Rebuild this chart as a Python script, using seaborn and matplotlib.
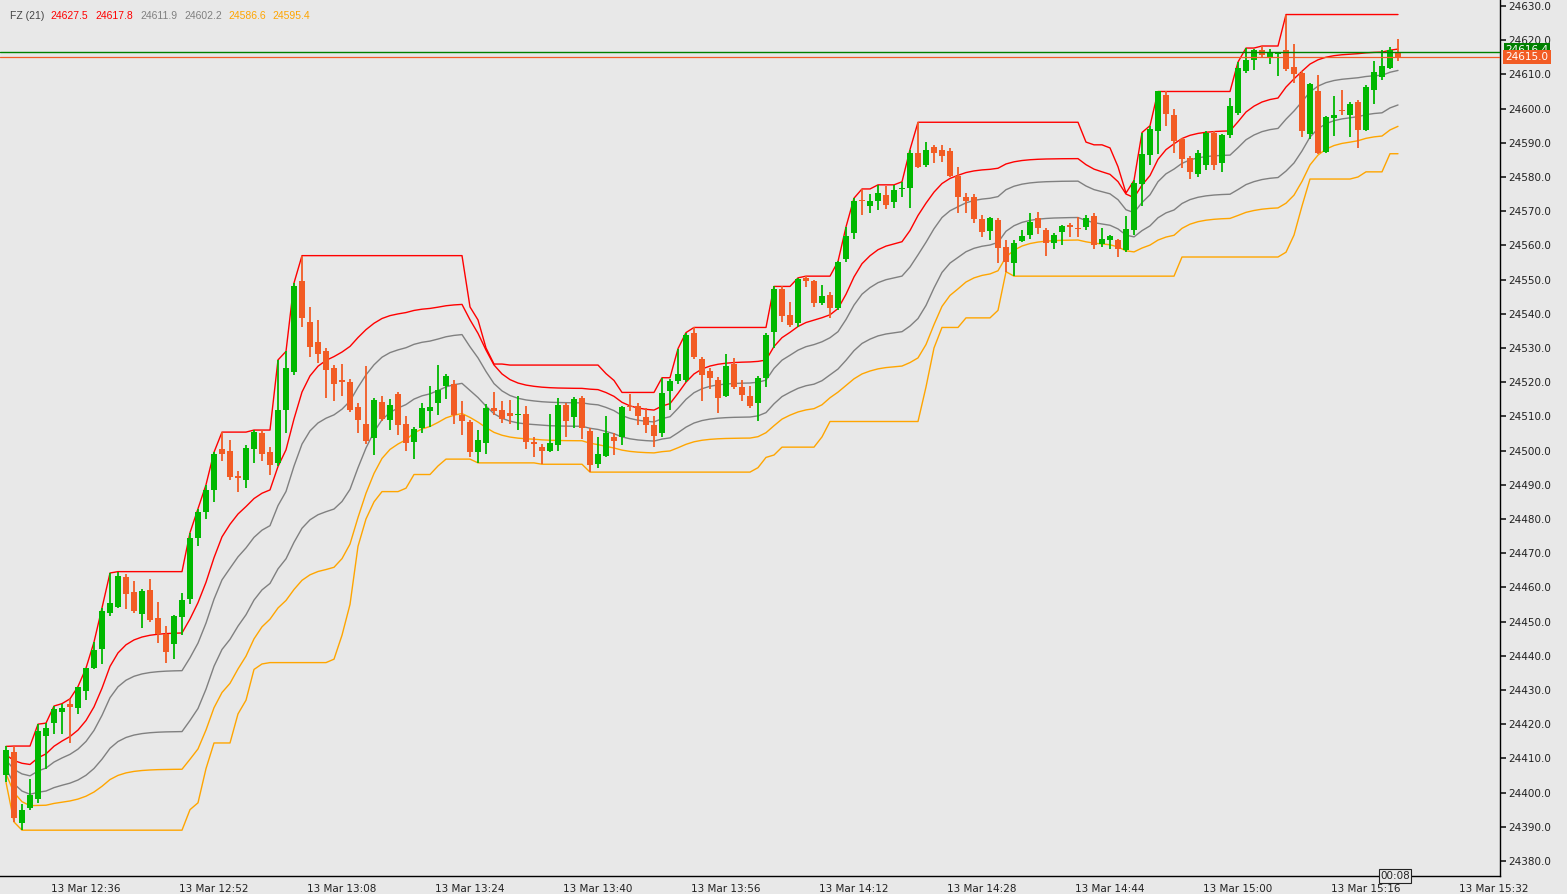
import numpy as np
import pandas as pd
import matplotlib
matplotlib.use("Agg")
import matplotlib.pyplot as plt
import seaborn as sns

# ---------------- data (1-minute candles, 13 Mar 12:26 .. 15:20) ----------------
opens = [24405,24412,24391,24395.5,24398,24416.5,24420.3,24423.5,24426,24424.7,
 24429.6,24436.4,24442,24452.6,24454.3,24463,24458.6,24452.3,24459.3,24451,
 24446.4,24443.5,24451.3,24456.5,24474.5,24482,24488.5,24500.5,24500,24492.5,
 24491.4,24500.5,24505,24499.6,24496.4,24512,24523,24549.6,24537.6,24531.7,
 24529,24524.2,24520.5,24520,24512.8,24507.8,24503.6,24514.2,24509,24516.5,
 24507.8,24502.5,24506.6,24511.5,24514,24518.8,24519.6,24510.4,24508.4,24499.6,
 24502.2,24512.5,24512,24511,24510.3,24510.7,24502.5,24501,24500,24501.6,
 24513.3,24509.8,24515.4,24505.7,24496,24498.4,24504,24504,24513,24513,
 24509.8,24507.5,24505,24517.4,24520.3,24520.7,24534.4,24526.8,24523.3,24520.6,
 24516,24525.3,24518.6,24516,24514,24521.3,24534.6,24547.3,24539.6,24537.3,
 24550.5,24549.6,24543.2,24545.5,24541.7,24556,24563.5,24573.2,24571.5,24573,
 24574.7,24572.7,24576.5,24576.8,24587,24583.5,24588.8,24588,24587.6,24580.3,
 24574,24574,24567.7,24564.2,24567.4,24559.5,24554.8,24561.3,24563,24568,
 24564.5,24560.7,24564,24565.7,24565,24565.4,24568.6,24560.3,24561.6,24561.7,
 24558.7,24564.5,24578,24586.5,24593.5,24604,24598,24591,24585.6,24581,
 24583.5,24593,24584,24592.2,24598.7,24611,24614.2,24617,24615,24616,
 24617,24612.2,24610.4,24592.6,24605.2,24587.3,24597.2,24599.4,24598.2,24602,
 24593.7,24605.4,24609.3,24612,24616.5]
highs = [24413.5,24413.6,24396.7,24404,24420,24420.3,24425.3,24426,24427.4,24431,
 24436.4,24444,24454,24464.2,24464.6,24464,24462,24459.5,24462.5,24455.7,
 24448.8,24452,24458.4,24476,24483,24490,24499.5,24505.4,24503,24494,
 24501.6,24506,24506,24501,24526.5,24529,24549,24557,24542,24538.2,
 24530,24525,24525.3,24521,24514,24524.7,24515.5,24516,24515,24517,
 24510,24507,24514,24519,24525,24522.5,24520.5,24514.5,24509,24506,
 24513.5,24517,24514.6,24514.8,24516,24513,24504,24502,24510.7,24515.4,
 24514,24515.7,24516,24506.5,24504,24510,24505,24513,24516.5,24514,
 24512.5,24510,24521.3,24521,24529.8,24534.5,24536,24527.5,24524,24521.5,
 24528.2,24527,24520.6,24519,24521.8,24534.5,24548,24548,24543.5,24550.5,
 24551,24550,24548.4,24546.4,24555.3,24565.4,24573.8,24576.5,24575,24577.7,
 24577.5,24577.6,24578.6,24588,24596,24590.2,24589.4,24589.4,24588.5,24583,
 24575.3,24575,24569,24568.3,24568,24561.6,24561.6,24564.4,24569.5,24569.8,
 24565,24563.5,24566,24566.5,24568.3,24569,24569.5,24565,24563,24562,
 24568.6,24579,24593,24595,24605,24605,24600,24591.5,24586,24588,
 24593.5,24593.5,24592.5,24603,24613.6,24617.7,24617.4,24618.3,24617.3,24616.5,
 24627.5,24619,24611,24607.5,24609.8,24597.8,24603.7,24605.4,24601.8,24602.5,
 24606.8,24614,24617,24618,24620.4]
lows = [24403,24391.4,24389,24395,24397,24407,24417,24417,24414.5,24423,
 24427,24436,24437.6,24451.6,24454,24453.7,24452.5,24448,24450,24443.7,
 24438,24439,24446,24455,24472,24480,24485,24497,24491.5,24488,
 24489,24496.4,24497,24493,24495.5,24505,24522,24536,24527.4,24525.6,
 24515.4,24514.5,24516,24511.4,24505,24502,24498.7,24508.5,24506,24504.5,
 24500,24497.5,24505,24507,24510.4,24515,24507.8,24504.5,24498,24496.4,
 24499,24510.4,24508,24507.7,24506,24500.4,24498,24496,24499.5,24500,
 24504,24506.6,24503.4,24493.7,24495,24498,24498.7,24501.6,24511.5,24507.5,
 24505,24501,24504,24512,24519.5,24520,24526.8,24514.5,24518,24511,
 24515.7,24518,24514.5,24512.5,24508.5,24518.6,24530,24537.7,24536,24536,
 24547.8,24542,24542.6,24538.8,24541,24555,24562,24569,24569.5,24570.4,
 24570.5,24571,24574,24571,24582.5,24583,24584,24584.4,24580,24569.5,
 24569.5,24566.5,24562.5,24561.6,24554.8,24552.3,24551,24561,24562,24563.3,
 24557,24559,24560,24562.5,24562.5,24564.5,24559,24559.5,24559,24556.6,
 24558,24563,24571.5,24583.6,24586.7,24595,24587,24582.6,24579.4,24580,
 24582,24582,24581.5,24591.5,24598,24610.5,24611.3,24615,24613,24609.5,
 24611,24607.5,24591.7,24591,24586.8,24587,24592,24598,24591.7,24588.5,
 24593.4,24601.4,24608.5,24611.5,24614]
closes = [24412.5,24392.6,24395,24399.4,24418,24419,24424.4,24424.6,24425,24431,
 24436.4,24441.6,24453,24455.5,24463.3,24458,24453,24459,24450.5,24446.4,
 24441,24451.6,24456.3,24474.5,24482,24488.5,24499,24499,24492.4,24492,
 24500.8,24505.4,24499,24495.8,24512,24524,24548,24538.8,24530.3,24528.2,
 24523.6,24519.5,24520,24512,24509,24502.8,24514.8,24509.3,24513.3,24507.5,
 24502.2,24506.3,24512.5,24512.8,24517.8,24521.8,24510.4,24508.6,24499.6,24503,
 24512.5,24511.6,24509.3,24510,24510.6,24502.5,24502,24500,24502.2,24513.3,
 24508.6,24515,24506.6,24495.8,24499,24505,24502.8,24512.6,24512.6,24510,
 24507.5,24504.3,24516.8,24520.3,24522.5,24533.7,24527.4,24522,24521.2,24515.4,
 24524.7,24518.6,24516.3,24513,24521.3,24533.8,24547.3,24539.4,24536.7,24550.2,
 24549.6,24543.2,24545.2,24541.7,24555,24562.7,24573,24573,24573,24575.3,
 24571.8,24576.2,24576.8,24587,24583,24588,24587,24586,24580.3,24574,
 24573,24567.7,24564,24568,24559.2,24555.2,24560.7,24562.7,24566.8,24565,
 24560.7,24563,24565.6,24565.5,24564.8,24568,24560,24562,24562.6,24559,
 24564.8,24578.2,24586.7,24594,24605,24598.4,24590.5,24585.3,24581.5,24587,
 24593,24583.5,24592.3,24600.8,24612,24614.3,24617,24615.7,24616.5,24616.2,
 24611.6,24610,24593.5,24607.2,24587,24597.5,24598.2,24599.2,24601.4,24593.7,
 24606.3,24610.7,24612.4,24617.2,24615]

tick_idx = [10, 26, 42, 58, 74, 90, 106, 122, 138, 154, 170, 186]
tick_labels = ["13 Mar 12:36", "13 Mar 12:52", "13 Mar 13:08", "13 Mar 13:24",
               "13 Mar 13:40", "13 Mar 13:56", "13 Mar 14:12", "13 Mar 14:28",
               "13 Mar 14:44", "13 Mar 15:00", "13 Mar 15:16", "13 Mar 15:32"]
period = 21
levels = [0.764, 0.618, 0.382, 0.236]
bid_price = 24616.4
last_price = 24615.0

# ---------------- build frame ----------------
df = pd.DataFrame({"o": opens, "h": highs, "l": lows, "c": closes})
df["h"] = df[["o", "h", "c"]].max(axis=1)
df["l"] = df[["o", "l", "c"]].min(axis=1)
df["i"] = np.arange(len(df))
top = df["h"].rolling(period, min_periods=1).max()
bot = df["l"].rolling(period, min_periods=1).min()
lines = {"top": top}
for k, f in enumerate(levels):
    lines[f"m{k}"] = (bot + f * (top - bot)).ewm(span=4).mean()
lines["bot"] = bot
line_colors = {"top": "#ff0000", "m0": "#ff0000", "m1": "#808080",
               "m2": "#808080", "m3": "#ffa500", "bot": "#ffa500"}

BG = "#e8e8e8"
GREEN = "#00b800"
RED = "#f25c24"

sns.set_theme(style="white")
plt.rcParams["font.family"] = ["DejaVu Sans"]
fig = plt.figure(figsize=(15.67, 8.94), dpi=100, facecolor=BG)
ax = fig.add_axes([0, 18 / 894, 1500 / 1567, 876 / 894])
ax.set_facecolor(BG)

for name, s in lines.items():
    sns.lineplot(x=df["i"], y=s, ax=ax, color=line_colors[name], lw=1.0, legend=False)

up = df["c"] >= df["o"]
cols = np.where(up, GREEN, RED)
ax.vlines(df["i"], df["l"], df["h"], colors=cols, lw=1.3, zorder=3)
body_lo = np.minimum(df["o"], df["c"])
body_h = np.maximum((df["c"] - df["o"]).abs(), 0.4)
ax.bar(df["i"], body_h, bottom=body_lo, width=0.7, color=cols, lw=0, zorder=4)

ax.axhline(bid_price, color="#008000", lw=1.0, zorder=5)
ax.axhline(last_price, color=RED, lw=0.9, zorder=5)

ax.set_xlim(-0.75, 186.75)
ax.set_ylim(24375.6, 24631.75)
ax.set_xticks(tick_idx)
ax.set_xticklabels(tick_labels, fontsize=7.5, color="#222222")
ax.set_yticks(np.arange(24380, 24631, 10))
ax.set_yticklabels([f"{v:.0f}.0" for v in np.arange(24380, 24631, 10)],
                   fontsize=7.5, color="#222222")
ax.yaxis.tick_right()
ax.tick_params(axis="y", direction="out", length=4, pad=2, colors="#222222")
ax.tick_params(axis="x", direction="out", length=4, pad=2, colors="#222222")
ax.set_xlabel("")
ax.set_ylabel("")
for sp in ["left", "top"]:
    ax.spines[sp].set_visible(False)
for sp in ["right", "bottom"]:
    ax.spines[sp].set_color("#000000")
    ax.spines[sp].set_linewidth(1.0)

# price tags on the right axis
ax.annotate(f"{bid_price:.1f}", xy=(1.0, bid_price), xycoords=("axes fraction", "data"),
            xytext=(4, 2), textcoords="offset points", fontsize=7.5, color="white",
            va="center", ha="left", bbox=dict(boxstyle="square,pad=0.15", fc="#008000", ec="none"),
            annotation_clip=False, zorder=6)
ax.annotate(f"{last_price:.1f}", xy=(1.0, last_price), xycoords=("axes fraction", "data"),
            xytext=(4, 0), textcoords="offset points", fontsize=7.5, color="white",
            va="center", ha="left", bbox=dict(boxstyle="square,pad=0.2", fc=RED, ec="none"),
            annotation_clip=False, zorder=7)
fig.text(1395 / 1567, 1 - 876 / 894, "00:08", fontsize=7.5, color="#222222",
         ha="center", va="center",
         bbox=dict(boxstyle="square,pad=0.15", fc=BG, ec="#222222", lw=0.8))

# header
hdr = [("FZ (21)", "#444444", 10), ("24627.5", "#ff0000", 50), ("24617.8", "#ff0000", 95),
       ("24611.9", "#808080", 140), ("24602.2", "#808080", 184),
       ("24586.6", "#ffa500", 228), ("24595.4", "#ffa500", 272)]
for t, c, px in hdr:
    fig.text(px / 1567, 1 - 16 / 894, t, fontsize=7.5, color=c, ha="left", va="center",
             family=["Liberation Sans", "DejaVu Sans"])

fig.savefig("out.png", dpi=100, facecolor=BG)
